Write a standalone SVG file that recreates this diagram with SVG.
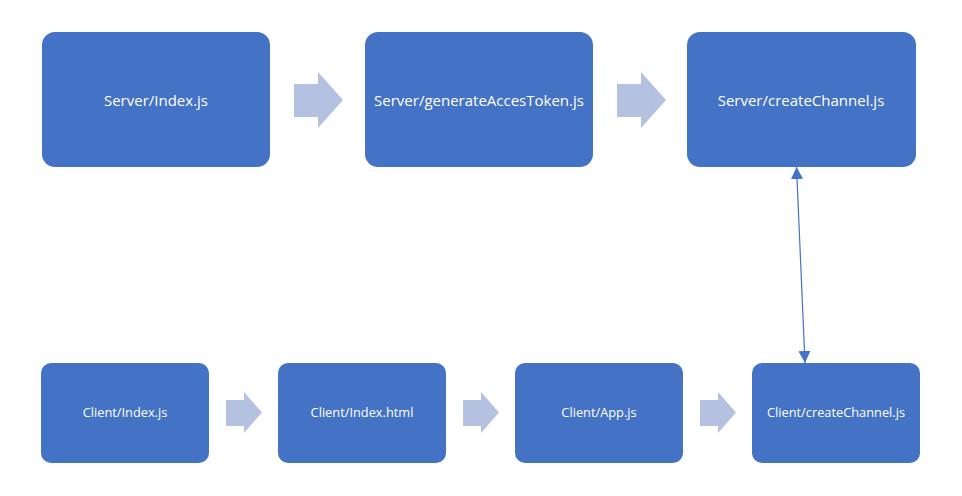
<svg xmlns="http://www.w3.org/2000/svg" width="962" height="496" viewBox="0 0 962 496">
<style>
.box{fill:#4472C4}
.t{fill:#fff;font-family:"Open Sans","Liberation Sans",sans-serif;text-anchor:middle;dominant-baseline:central}
.big{font-size:15px}
.sm{font-size:12.8px}
.ba{fill:#B4C1E0}
.ln{stroke:#4472C4;stroke-width:1.2;fill:none}
</style>
<defs>
<marker id="ah" markerWidth="12" markerHeight="12" refX="12" refY="6" orient="auto-start-reverse" markerUnits="userSpaceOnUse">
<path d="M0,0 L12,6 L0,12 z" fill="#4472C4"/>
</marker>
</defs>
<rect width="962" height="496" fill="#fff"/>
<g id="n1"><rect class="box" x="42" y="32" width="228" height="135" rx="13"/><text class="t big" x="156" y="100">Server/Index.js</text></g>
<g id="n2"><rect class="box" x="365" y="32" width="228" height="135" rx="13"/><text class="t big" x="479" y="100">Server/generateAccesToken.js</text></g>
<g id="n3"><rect class="box" x="687" y="32" width="229" height="135" rx="13"/><text class="t big" x="801" y="100">Server/createChannel.js</text></g>
<g id="n4"><rect class="box" x="41" y="363" width="168" height="100" rx="10"/><text class="t sm" x="125" y="412">Client/Index.js</text></g>
<g id="n5"><rect class="box" x="278" y="363" width="168" height="100" rx="10"/><text class="t sm" x="362" y="412">Client/Index.html</text></g>
<g id="n6"><rect class="box" x="515" y="363" width="168" height="100" rx="10"/><text class="t sm" x="599" y="412">Client/App.js</text></g>
<g id="n7"><rect class="box" x="752" y="363" width="168" height="100" rx="10"/><text class="t sm" x="836" y="412">Client/createChannel.js</text></g>
<g id="connectors">
<path class="ba" d="M294,84 H318 V72 L343,100 L318,128 V117 H294 z"/>
<path class="ba" d="M617,84 H641 V72 L666,100 L641,128 V117 H617 z"/>
<path class="ba" d="M226,400 H244 V392 L262,412.5 L244,433 V426 H226 z"/>
<path class="ba" d="M463,400 H481 V392 L499,412.5 L481,433 V426 H463 z"/>
<path class="ba" d="M700,400 H718 V392 L736,412.5 L718,433 V426 H700 z"/>
<line class="ln" x1="796.5" y1="167" x2="805" y2="363" marker-start="url(#ah)" marker-end="url(#ah)"/>
</g>
</svg>
